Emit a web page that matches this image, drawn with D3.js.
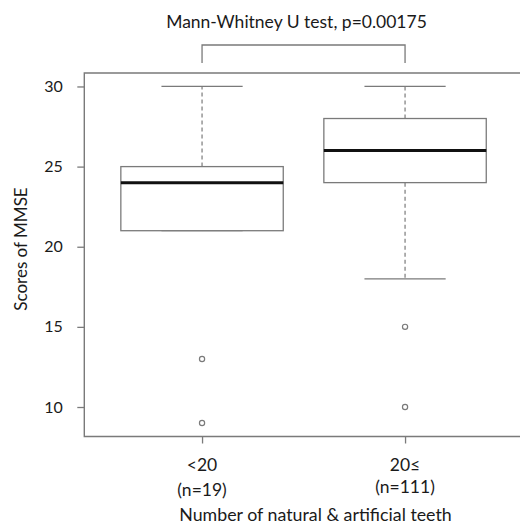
<!DOCTYPE html>
<html>
<head>
<meta charset="utf-8">
<script src="https://cdn.jsdelivr.net/npm/d3@7"></script>
<style>
  body { margin: 0; background: #fff; }
  svg { display: block; }
  text { font-family: Lato, "Open Sans", sans-serif; fill: #1a1a1a; }
</style>
</head>
<body>
<svg id="chart" width="520" height="526"></svg>
<script>
// data
var groups = ["<20", "20≤"];
var counts = [19, 111];
var whiskerLow = [21, 18];
var q1 = [21, 24];
var median = [24, 26];
var q3 = [25, 28];
var whiskerHigh = [30, 30];
var outliers = [[13, 9], [15, 10]];
var yTicks = [10, 15, 20, 25, 30];
var testLabel = "Mann-Whitney U test, p=0.00175";

var svg = d3.select("svg#chart");
var lineColor = "#7a7a7a";

// R style ranges, padded 4%
var x = d3.scaleLinear().domain([0.42, 2.58]).range([84.3, 522.8]);
var y = d3.scaleLinear().domain([8.16, 30.84]).range([436.5, 73]);

var boxHalf = 0.4, capHalf = 0.2;

// frame (right side runs off the picture)
svg.append("path")
   .attr("d", "M" + x(2.58) + "," + y(30.84) + "H" + x(0.42) + "V" + y(8.16) + "H" + x(2.58))
   .attr("fill", "none")
   .attr("stroke", lineColor)
   .attr("stroke-width", 1.4);

// y axis
var yAxis = svg.append("g")
   .attr("transform", "translate(" + x(0.42) + ",0)")
   .call(d3.axisLeft(y).tickValues(yTicks).tickSize(7).tickPadding(14.5));
yAxis.select(".domain").remove();
yAxis.selectAll(".tick line").attr("stroke", lineColor).attr("stroke-width", 1.3);
yAxis.selectAll(".tick text").style("font-size", "16px").attr("fill", "#1a1a1a");

// x ticks
var xAxis = svg.append("g")
   .attr("transform", "translate(0," + y(8.16) + ")")
   .call(d3.axisBottom(x).tickValues([1, 2]).tickSize(7).tickFormat(""));
xAxis.select(".domain").remove();
xAxis.selectAll(".tick line").attr("stroke", lineColor).attr("stroke-width", 1.3);

// x labels
groups.forEach(function(g, i) {
  var t = svg.append("text")
     .attr("x", x(i + 1))
     .attr("text-anchor", "middle")
     .style("font-size", "17.5px");
  t.append("tspan").attr("x", x(i + 1)).attr("y", 471).text(g);
  t.append("tspan").attr("x", x(i + 1)).attr("y", i == 0 ? 495.5 : 492.5).text("(n=" + counts[i] + ")");
});

// boxes
groups.forEach(function(g, i) {
  var cx = i + 1;
  var box = svg.append("g");

  // whiskers
  box.append("line")
     .attr("x1", x(cx)).attr("x2", x(cx))
     .attr("y1", y(q3[i])).attr("y2", y(whiskerHigh[i]))
     .attr("stroke", lineColor).attr("stroke-width", 1.2).attr("stroke-dasharray", "4,3");
  box.append("line")
     .attr("x1", x(cx)).attr("x2", x(cx))
     .attr("y1", y(q1[i])).attr("y2", y(whiskerLow[i]))
     .attr("stroke", lineColor).attr("stroke-width", 1.2).attr("stroke-dasharray", "4,3");

  // staples
  [whiskerHigh[i], whiskerLow[i]].forEach(function(v) {
    box.append("line")
       .attr("x1", x(cx - capHalf)).attr("x2", x(cx + capHalf))
       .attr("y1", y(v)).attr("y2", y(v))
       .attr("stroke", lineColor).attr("stroke-width", 1.3);
  });

  box.append("rect")
     .attr("x", x(cx - boxHalf))
     .attr("y", y(q3[i]))
     .attr("width", x(cx + boxHalf) - x(cx - boxHalf))
     .attr("height", y(q1[i]) - y(q3[i]))
     .attr("fill", "#fff")
     .attr("stroke", lineColor)
     .attr("stroke-width", 1.3);

  box.append("line")
     .attr("x1", x(cx - boxHalf)).attr("x2", x(cx + boxHalf))
     .attr("y1", y(median[i])).attr("y2", y(median[i]))
     .attr("stroke", "#111").attr("stroke-width", 3);

  box.selectAll("circle")
     .data(outliers[i])
     .enter().append("circle")
     .attr("cx", x(cx))
     .attr("cy", function(d) { return y(d); })
     .attr("r", 2.6)
     .attr("fill", "none")
     .attr("stroke", lineColor)
     .attr("stroke-width", 1.2);
});

// significance bracket
svg.append("path")
   .attr("d", "M" + x(1) + ",63V45H" + x(2) + "V63")
   .attr("fill", "none")
   .attr("stroke", lineColor)
   .attr("stroke-width", 1.3);

svg.append("text")
   .attr("x", 296.5).attr("y", 27.5)
   .attr("text-anchor", "middle")
   .style("font-size", "17.5px")
   .text(testLabel);

// axis titles
svg.append("text")
   .attr("x", 315.5).attr("y", 521)
   .attr("text-anchor", "middle")
   .style("font-size", "17.8px")
   .text("Number of natural & artificial teeth");

svg.append("text")
   .attr("transform", "translate(26.5,249) rotate(-90)")
   .attr("text-anchor", "middle")
   .style("font-size", "17px")
   .text("Scores of MMSE");
</script>
</body>
</html>
